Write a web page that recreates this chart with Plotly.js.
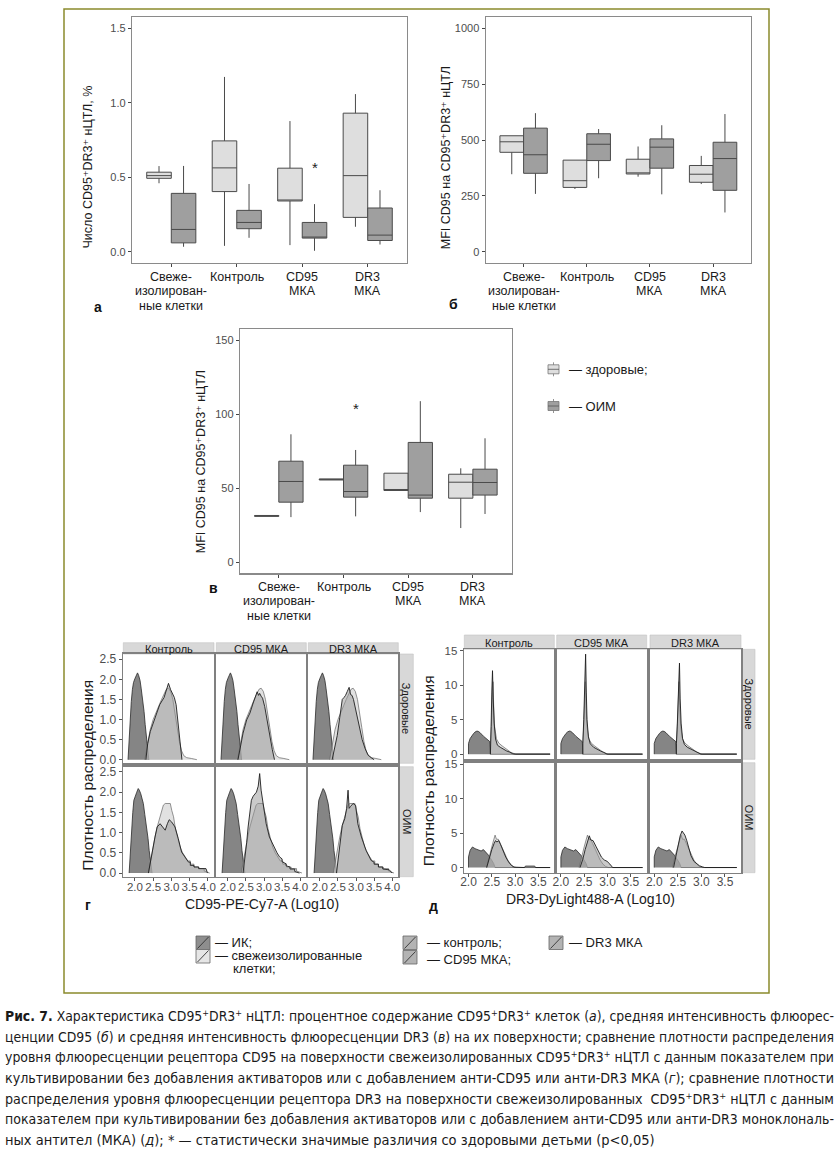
<!DOCTYPE html>
<html>
<head>
<meta charset="utf-8">
<script src="https://cdn.plot.ly/plotly-3.0.1.min.js"></script>
<style>
html,body{margin:0;padding:0;background:#fff;}
#wrap{position:relative;width:839px;height:1152px;overflow:hidden;}
#chart{position:absolute;left:0;top:0;width:839px;height:1152px;}
#caption{position:absolute;left:5px;top:1006px;width:829px;font-family:"Liberation Sans Narrow","Arial Narrow","DejaVu Sans Condensed","Liberation Sans",sans-serif;font-size:14.5px;line-height:20.7px;color:#1a1a1a;}
#caption .ln{display:block;height:20.7px;white-space:nowrap;}
#caption .ln span{display:inline-block;white-space:nowrap;transform-origin:0 0;}
#caption sup{font-size:0.65em;line-height:0;vertical-align:0.55em;}
</style>
</head>
<body>
<div id="wrap">
<div id="chart"></div>
<div id="caption">
<div class="ln j"><span><b>Рис. 7.</b> Характеристика CD95<sup>+</sup>DR3<sup>+</sup> нЦТЛ: процентное содержание CD95<sup>+</sup>DR3<sup>+</sup> клеток (<i>а</i>), средняя интенсивность флюорес-</span></div>
<div class="ln j"><span>ценции CD95 (<i>б</i>) и средняя интенсивность флюоресценции DR3 (<i>в</i>) на их поверхности; сравнение плотности распределения</span></div>
<div class="ln j"><span>уровня флюоресценции рецептора CD95 на поверхности свежеизолированных CD95<sup>+</sup>DR3<sup>+</sup> нЦТЛ с данным показателем при</span></div>
<div class="ln j"><span>культивировании без добавления активаторов или с добавлением анти-CD95 или анти-DR3 МКА (<i>г</i>); сравнение плотности</span></div>
<div class="ln j"><span>распределения уровня флюоресценции рецептора DR3 на поверхности свежеизолированных&nbsp; CD95<sup>+</sup>DR3<sup>+</sup> нЦТЛ с данным</span></div>
<div class="ln j"><span>показателем при культивировании без добавления активаторов или с добавлением анти-CD95 или анти-DR3 моноклональ-</span></div>
<div class="ln"><span>ных антител (МКА) (<i>д</i>); * — статистически значимые различия со здоровыми детьми (p&lt;0,05)</span></div>
</div>
</div>
<script>
// ---------------- DATA ----------------
const categories = ['Свеже-изолированные клетки', 'Контроль', 'CD95 МКА', 'DR3 МКА'];
const categoryLines = [['Свеже-', 'изолирован-', 'ные клетки'], ['Контроль'], ['CD95', 'МКА'], ['DR3', 'МКА']];
const groupNames = ['здоровые', 'ОИМ'];

// panel а: число CD95+DR3+ нЦТЛ, %
const aQ1H = [0.493, 0.404, 0.341, 0.231];
const aMedH = [0.511, 0.563, 0.345, 0.511];
const aQ3H = [0.534, 0.744, 0.561, 0.930];
const aLoH = [0.460, 0.040, 0.045, 0.168];
const aHiH = [0.575, 1.173, 0.877, 1.058];
const aQ1O = [0.060, 0.155, 0.092, 0.076];
const aMedO = [0.150, 0.197, 0.099, 0.112];
const aQ3O = [0.392, 0.278, 0.197, 0.294];
const aLoO = [0.034, 0.094, 0.007, 0.049];
const aHiO = [0.576, 0.455, 0.320, 0.413];
const aStarCat = [2], aStarY = [0.565];
const aTicks = [0, 0.5, 1, 1.5], aTickText = ['0.0', '0.5', '1.0', '1.5'];

// panel б: MFI CD95
const bQ1H = [445, 288, 348, 311];
const bMedH = [492, 318, 353, 347];
const bQ3H = [519, 410, 414, 386];
const bLoH = [347, 281, 336, 303];
const bHiH = [519, 410, 471, 429];
const bQ1O = [351, 408, 374, 275];
const bMedO = [434, 481, 468, 417];
const bQ3O = [553, 528, 505, 490];
const bLoO = [259, 329, 257, 176];
const bHiO = [620, 549, 566, 616];
const bTicks = [0, 250, 500, 750, 1000];

// panel в
const vQ1H = [31.0, 55.6, 48.5, 43.3];
const vMedH = [31.3, 56.0, 49.0, 54.1];
const vQ3H = [31.6, 56.3, 60.2, 59.5];
const vLoH = [31.0, 55.6, 48.5, 23.1];
const vHiH = [31.6, 56.3, 60.2, 63.5];
const vQ1O = [40.6, 44.0, 43.3, 45.4];
const vMedO = [54.6, 47.8, 45.4, 53.9];
const vQ3O = [68.3, 65.6, 81.0, 62.9];
const vLoO = [30.5, 31.0, 33.9, 32.6];
const vHiO = [86.5, 75.9, 108.9, 83.8];
const vStarCat = [1], vStarY = [103.7];
const vTicks = [0, 50, 100, 150];

// facets
const facetCols = ['Контроль', 'CD95 МКА', 'DR3 МКА'];
const facetRows = ['Здоровые', 'ОИМ'];

// panel г: CD95-PE-Cy7-A (Log10)
const gXTicks = [2, 2.5, 3, 3.5, 4], gXTickText = ['2.0', '2.5', '3.0', '3.5', '4.0'];
const gYTicks = [0, 0.5, 1, 1.5, 2, 2.5], gYTickText = ['0.0', '0.5', '1.0', '1.5', '2.0', '2.5'];
const gIKHx = [1.81, 1.84, 1.87, 1.90, 1.93, 1.96, 2.00, 2.04, 2.07, 2.10, 2.14, 2.17, 2.21, 2.25, 2.28, 2.31, 2.34, 2.38];
const gIKHy = [0, 0.55, 1.05, 1.45, 1.75, 1.92, 2.02, 2.10, 2.16, 2.10, 1.97, 1.78, 1.52, 1.20, 0.88, 0.55, 0.25, 0];
const gFreshHx = [2.27, 2.35, 2.42, 2.50, 2.58, 2.66, 2.73, 2.80, 2.86, 2.92, 2.98, 3.04, 3.10, 3.16, 3.22, 3.28, 3.34, 3.42, 3.55, 3.70];
const gFreshHy = [0, 0.40, 0.75, 1.00, 1.20, 1.35, 1.50, 1.65, 1.75, 1.78, 1.70, 1.50, 1.20, 0.80, 0.45, 0.22, 0.10, 0.05, 0.03, 0];
const gCtrlHx = [2.30, 2.35, 2.42, 2.50, 2.61, 2.68, 2.80, 2.87, 2.92, 2.98, 3.03, 3.08, 3.13, 3.18, 3.22, 3.25, 3.29];
const gCtrlHy = [0, 0.40, 0.70, 0.91, 1.24, 1.37, 1.55, 1.78, 1.90, 1.74, 1.66, 1.55, 1.37, 0.95, 0.50, 0.20, 0];
const gCD95Hx = [2.28, 2.35, 2.42, 2.52, 2.61, 2.70, 2.76, 2.81, 2.85, 2.88, 2.92, 2.96, 3.02, 3.08, 3.16, 3.23, 3.29];
const gCD95Hy = [0, 0.35, 0.66, 0.99, 1.16, 1.41, 1.55, 1.69, 1.60, 1.65, 1.58, 1.53, 1.32, 0.99, 0.58, 0.25, 0];
const gDR3Hx = [2.34, 2.41, 2.48, 2.55, 2.62, 2.67, 2.71, 2.76, 2.81, 2.85, 2.89, 2.93, 2.98, 3.04, 3.10, 3.17, 3.25, 3.33, 3.42, 3.50];
const gDR3Hy = [0, 0.30, 0.60, 1.05, 1.50, 1.55, 1.60, 1.70, 1.80, 1.62, 1.60, 1.50, 1.30, 1.00, 0.75, 0.50, 0.28, 0.12, 0.05, 0];
const gIKOx = [1.84, 1.87, 1.91, 1.94, 1.97, 2.01, 2.05, 2.09, 2.12, 2.16, 2.20, 2.23, 2.27, 2.32, 2.36, 2.39, 2.43, 2.47];
const gIKOy = [0, 0.50, 1.14, 1.50, 1.80, 1.92, 2.00, 2.09, 2.05, 1.96, 1.85, 1.72, 1.45, 1.14, 0.85, 0.56, 0.30, 0];
const gFreshOx = [2.37, 2.46, 2.55, 2.61, 2.66, 2.72, 2.78, 2.83, 2.90, 2.97, 3.01, 3.06, 3.11, 3.16, 3.24, 3.31, 3.38, 3.45, 3.52, 3.52, 3.62, 3.62, 3.75, 3.75, 3.90, 3.90, 4.05];
const gFreshOy = [0, 0.48, 0.89, 1.14, 1.30, 1.55, 1.68, 1.72, 1.72, 1.72, 1.55, 1.39, 1.10, 0.89, 0.64, 0.50, 0.40, 0.30, 0.30, 0.22, 0.22, 0.15, 0.15, 0.11, 0.11, 0.05, 0];
const gCtrlOx = [2.37, 2.46, 2.55, 2.61, 2.69, 2.76, 2.83, 2.89, 2.94, 3.01, 3.10, 3.19, 3.28, 3.37, 3.47, 3.52, 3.52, 3.62, 3.62, 3.75, 3.75, 3.95, 3.99];
const gCtrlOy = [0, 0.48, 0.89, 1.14, 1.22, 1.14, 1.06, 1.22, 1.32, 1.26, 1.14, 0.85, 0.52, 0.40, 0.27, 0.27, 0.19, 0.19, 0.15, 0.15, 0.11, 0.11, 0];
const gCD95Ox = [2.42, 2.47, 2.52, 2.56, 2.61, 2.65, 2.70, 2.74, 2.79, 2.84, 2.88, 2.92, 2.97, 3.02, 3.06, 3.15, 3.22, 3.29, 3.36, 3.43, 3.50, 3.50, 3.61, 3.61, 3.72, 3.72, 3.85, 3.85, 3.98];
const gCD95Oy = [0, 0.35, 0.75, 1.14, 1.50, 1.80, 1.90, 1.96, 2.00, 2.15, 2.46, 2.05, 1.72, 1.45, 1.22, 0.89, 0.75, 0.64, 0.50, 0.40, 0.35, 0.28, 0.23, 0.18, 0.15, 0.10, 0.10, 0.04, 0];
const gDR3Ox = [2.46, 2.51, 2.55, 2.62, 2.69, 2.74, 2.78, 2.81, 2.85, 2.92, 2.99, 3.05, 3.15, 3.28, 3.42, 3.50, 3.50, 3.62, 3.62, 3.74, 3.74, 3.92, 4.00];
const gDR3Oy = [0, 0.40, 0.73, 1.18, 1.35, 1.60, 2.05, 1.60, 1.65, 1.72, 1.67, 1.22, 0.89, 0.56, 0.31, 0.27, 0.22, 0.22, 0.15, 0.15, 0.10, 0.08, 0];

// panel д: DR3-DyLight488-A (Log10)
const dXTicks = [2, 2.5, 3, 3.5], dXTickText = ['2.0', '2.5', '3.0', '3.5'];
const dYTicks = [0, 5, 10, 15];
const dIKHx = [2.0, 2.0, 2.035, 2.07, 2.11, 2.14, 2.18, 2.21, 2.25, 2.32, 2.39, 2.46, 2.47, 3.75];
const dIKHy = [0, 1.55, 2.27, 2.70, 3.00, 3.20, 3.34, 3.30, 3.10, 2.60, 2.13, 1.80, 0, 0];
const dFreshHx = [2.47, 2.47, 2.49, 2.51, 2.525, 2.54, 2.56, 2.60, 2.65, 2.72, 2.78, 2.85, 2.90, 2.97, 3.02, 3.75];
const dFreshHy = [0, 1.5, 4.0, 8.0, 10.5, 7.0, 4.0, 2.2, 1.6, 1.2, 0.9, 0.55, 0.3, 0.1, 0, 0];
const dCtrlHx = [2.47, 2.47, 2.485, 2.50, 2.515, 2.53, 2.55, 2.58, 2.62, 2.68, 2.75, 2.82, 2.88, 2.95, 3.0, 3.75];
const dCtrlHy = [0, 1.5, 4.0, 9.0, 12.1, 8.0, 4.5, 2.2, 1.3, 1.0, 0.7, 0.45, 0.3, 0.05, 0, 0];
const dCD95Hx = [2.47, 2.47, 2.49, 2.51, 2.53, 2.545, 2.56, 2.59, 2.63, 2.70, 2.77, 2.85, 2.92, 2.99, 3.75];
const dCD95Hy = [0, 1.5, 5.0, 10.0, 14.5, 9.0, 5.0, 2.5, 1.5, 1.0, 0.7, 0.45, 0.25, 0, 0];
const dDR3Hx = [2.47, 2.47, 2.49, 2.51, 2.535, 2.55, 2.57, 2.60, 2.64, 2.70, 2.78, 2.86, 2.93, 2.99, 3.75];
const dDR3Hy = [0, 1.5, 4.5, 9.0, 13.2, 8.0, 4.5, 2.3, 1.4, 1.0, 0.75, 0.45, 0.2, 0, 0];
const dIKOx = [2.0, 2.0, 2.035, 2.085, 2.14, 2.21, 2.27, 2.32, 2.37, 2.43, 2.49, 2.54, 2.57, 3.75];
const dIKOy = [0, 1.54, 2.50, 2.98, 2.74, 2.50, 2.40, 2.60, 2.26, 1.78, 1.15, 0.58, 0, 0];
const dFreshOx = [2.39, 2.44, 2.50, 2.54, 2.57, 2.60, 2.64, 2.68, 2.73, 2.78, 2.84, 2.90, 2.96, 3.02, 3.75];
const dFreshOy = [0, 1.6, 3.0, 4.0, 4.7, 4.1, 4.1, 3.5, 2.7, 1.9, 1.1, 0.5, 0.15, 0, 0];
const dCtrlOx = [2.39, 2.44, 2.50, 2.55, 2.58, 2.61, 2.65, 2.69, 2.74, 2.80, 2.86, 2.92, 2.98, 3.05, 3.20, 3.22, 3.42, 3.44, 3.75];
const dCtrlOy = [0, 1.3, 2.6, 3.5, 3.9, 3.7, 3.9, 3.3, 2.4, 1.5, 0.8, 0.3, 0.05, 0, 0, 0.2, 0.2, 0, 0];
const dCD95Ox = [2.41, 2.47, 2.52, 2.57, 2.61, 2.64, 2.69, 2.75, 2.81, 2.87, 2.93, 2.99, 3.05, 3.11, 3.75];
const dCD95Oy = [0, 1.2, 2.6, 3.8, 4.6, 4.0, 3.9, 3.1, 2.2, 1.5, 1.1, 0.9, 0.5, 0, 0];
const dDR3Ox = [2.41, 2.46, 2.51, 2.55, 2.59, 2.62, 2.65, 2.69, 2.73, 2.78, 2.84, 2.90, 2.96, 3.03, 3.07, 3.75];
const dDR3Oy = [0, 1.5, 3.3, 4.6, 5.3, 5.0, 4.7, 3.9, 2.8, 1.7, 0.9, 0.5, 0.25, 0.08, 0, 0];

// ---------------- LAYOUT HELPERS ----------------
const W = 839, H = 1152;
const X = p => p / W;
const Y = p => 1 - p / H;
const FONT = 'Liberation Sans, Arial, Helvetica, sans-serif';
const traces = [];
const shapes = [];
const annotations = [];
const layout = {
  width: W, height: H, margin: {l: 0, r: 0, t: 0, b: 0},
  paper_bgcolor: '#ffffff', plot_bgcolor: '#ffffff', showlegend: false,
  boxmode: 'overlay',
  font: {family: FONT, color: '#1a1a1a'},
  shapes: shapes, annotations: annotations
};
const axId = n => (n === 1 ? '' : String(n));

function text(txt, x, y, opt) {
  annotations.push(Object.assign({
    text: txt, x: X(x), y: Y(y), xref: 'paper', yref: 'paper',
    showarrow: false, xanchor: 'center', yanchor: 'middle',
    font: {family: FONT, size: 12, color: '#1a1a1a'}
  }, opt || {}));
}
function rect(x0, y0, x1, y1, fill, line, lw) {
  shapes.push({type: 'rect', xref: 'paper', yref: 'paper', x0: X(x0), x1: X(x1), y0: Y(y1), y1: Y(y0),
    fillcolor: fill, line: {color: line, width: lw === undefined ? 1 : lw}, layer: 'below'});
}
function seg(x0, y0, x1, y1, color, lw) {
  shapes.push({type: 'line', xref: 'paper', yref: 'paper', x0: X(x0), x1: X(x1), y0: Y(y0), y1: Y(y1),
    line: {color: color, width: lw || 1}});
}

// ---------------- BOX PANELS ----------------
const LIGHT = '#dedede', DARK = '#9f9f9f', BOXLINE = '#4a4a4a';
const BOX_W = 0.375;           // each box = half of the 0.75 dodge width (ggplot default)
const DODGE = BOX_W / 2;
const catPos = categories.map((_, i) => i);
function boxPanel(n, px, py, yrange, ytv, ytt, hs, os) {
  const xr = 'x' + axId(n), yr = 'y' + axId(n);
  layout['xaxis' + axId(n)] = {
    domain: [X(px[0]), X(px[1])], anchor: yr, type: 'linear', range: [-0.6, 3.6],
    tickvals: catPos, showticklabels: false,
    showline: true, mirror: true, linecolor: '#8a8a8a', linewidth: 1.2,
    ticks: 'outside', ticklen: 3, tickcolor: '#444', tickwidth: 1,
    showgrid: false, zeroline: false, fixedrange: true
  };
  layout['yaxis' + axId(n)] = {
    domain: [Y(py[1]), Y(py[0])], anchor: xr, range: yrange,
    tickvals: ytv, ticktext: ytt,
    showline: true, mirror: true, linecolor: '#8a8a8a', linewidth: 1.2,
    ticks: 'outside', ticklen: 3, tickcolor: '#444', tickwidth: 1,
    tickfont: {family: FONT, size: 11, color: '#4d4d4d'},
    showgrid: false, zeroline: false, fixedrange: true
  };
  const base = {type: 'box', xaxis: xr, yaxis: yr, width: BOX_W,
    whiskerwidth: 0, boxpoints: false, hoverinfo: 'skip', line: {color: BOXLINE, width: 1}};
  traces.push(Object.assign({}, base, {name: groupNames[0], x: catPos.map(p => p - DODGE),
    q1: hs[0], median: hs[1], q3: hs[2], lowerfence: hs[3], upperfence: hs[4], fillcolor: LIGHT}));
  traces.push(Object.assign({}, base, {name: groupNames[1], x: catPos.map(p => p + DODGE),
    q1: os[0], median: os[1], q3: os[2], lowerfence: os[3], upperfence: os[4], fillcolor: DARK}));
  // category tick labels, one line each, placed at the category positions of this axis
  categoryLines.forEach((lines, i) => lines.forEach((ln, k) => annotations.push({
    text: ln, x: catPos[i], xref: xr, y: Y(py[1] + 13.5 + k * 14.5), yref: 'paper',
    showarrow: false, xanchor: 'center', yanchor: 'middle',
    font: {family: FONT, size: 12.5, color: '#1a1a1a'}
  })));
}

boxPanel(1, [132, 407], [17, 263], [-0.075, 1.575], aTicks, aTickText,
  [aQ1H, aMedH, aQ3H, aLoH, aHiH], [aQ1O, aMedO, aQ3O, aLoO, aHiO]);
boxPanel(2, [485.7, 751], [17, 263], [-50, 1050], bTicks, bTicks.map(String),
  [bQ1H, bMedH, bQ3H, bLoH, bHiH], [bQ1O, bMedO, bQ3O, bLoO, bHiO]);
boxPanel(3, [240, 511.7], [329.3, 573.3], [-7.5, 157.5], vTicks, vTicks.map(String),
  [vQ1H, vMedH, vQ3H, vLoH, vHiH], [vQ1O, vMedO, vQ3O, vLoO, vHiO]);

// significance asterisks (above the ОИМ box of the group)
aStarCat.forEach((c, i) => annotations.push({text: '*', x: c + DODGE, y: aStarY[i], xref: 'x', yref: 'y',
  showarrow: false, font: {family: FONT, size: 15, color: '#222'}}));
vStarCat.forEach((c, i) => annotations.push({text: '*', x: c + DODGE, y: vStarY[i], xref: 'x3', yref: 'y3',
  showarrow: false, font: {family: FONT, size: 15, color: '#222'}}));

// axis titles of box panels
const titleFont = {family: 'Liberation Sans, DejaVu Sans, sans-serif', size: 12.5, color: '#1a1a1a'};
text('Число CD95⁺DR3⁺ нЦТЛ, %', 87, 167.5, {textangle: -90, font: titleFont});
text('MFI CD95 на CD95⁺DR3⁺ нЦТЛ', 445.7, 157.5, {textangle: -90, font: titleFont});
text('MFI CD95 на CD95⁺DR3⁺ нЦТЛ', 201.7, 461.5, {textangle: -90, font: titleFont});

// panel letters
const letterFont = {family: FONT, size: 14, color: '#111', weight: 'bold'};
text('а', 98, 307, {font: letterFont});
text('б', 453, 304, {font: letterFont});
text('в', 213, 588, {font: letterFont});
text('г', 88, 905, {font: letterFont});
text('д', 433, 906, {font: letterFont});

// legend of box plots (panel в)
function boxIcon(cx, cy, fill) {
  rect(cx - 5.5, cy - 4.5, cx + 5.5, cy + 4.5, fill, '#777', 0.8);
  seg(cx - 5.5, cy, cx + 5.5, cy, '#555', 0.8);
  seg(cx, cy - 7, cx, cy - 4.5, '#777', 0.8);
  seg(cx, cy + 4.5, cx, cy + 7, '#777', 0.8);
}
boxIcon(553.5, 369.3, LIGHT);
boxIcon(553.5, 406, DARK);
text('— здоровые;', 566.7, 369.3, {xanchor: 'left', font: {family: FONT, size: 13, color: '#1a1a1a'}});
text('— ОИМ', 566.7, 406, {xanchor: 'left', font: {family: FONT, size: 13, color: '#1a1a1a'}});

// ---------------- FACET PANELS ----------------
const IK_STYLE = {fillcolor: 'rgba(112,112,112,0.85)', line: {color: '#2a2a2a', width: 0.8}};
const FRESH_STYLE = {fillcolor: 'rgba(205,205,205,0.6)', line: {color: '#666666', width: 0.7}};
const COND_STYLE = {fillcolor: 'rgba(150,150,150,0.5)', line: {color: '#1e1e1e', width: 0.9}};

function facetBlock(startN, cols, rows, topStrip, rightStrip, xrange, yrange, xtv, xtt, ytv, ytt, curves, xFont, yFont, xStand) {
  for (let r = 0; r < 2; r++) {
    for (let c = 0; c < 3; c++) {
      const n = startN + r * 3 + c;
      const xa = 'x' + n, ya = 'y' + n;
      const xax = {
        domain: [X(cols[c][0]), X(cols[c][1])], anchor: ya, range: xrange,
        tickvals: xtv, ticktext: xtt, tickangle: 0,
        showticklabels: r === 1, ticks: r === 1 ? 'outside' : '', ticklen: 3, tickcolor: '#555',
        tickfont: {family: FONT, size: xFont, color: '#4d4d4d'},
        showline: true, mirror: true, linecolor: '#808080', linewidth: 1.6,
        showgrid: false, zeroline: false, fixedrange: true
      };
      if (r === 1) xax.ticklabelstandoff = xStand;
      layout['xaxis' + n] = xax;
      layout['yaxis' + n] = {
        domain: [Y(rows[r][1]), Y(rows[r][0])], anchor: xa, range: yrange,
        tickvals: ytv, ticktext: ytt,
        showticklabels: c === 0, ticks: c === 0 ? 'outside' : '', ticklen: 3, tickcolor: '#555',
        tickfont: {family: FONT, size: yFont, color: '#4d4d4d'},
        showline: true, mirror: true, linecolor: '#808080', linewidth: 1.6,
        showgrid: false, zeroline: false, fixedrange: true
      };
      const cv = curves[r];
      const add = (xy, st, nm) => traces.push(Object.assign({type: 'scatter', mode: 'lines', name: nm,
        x: xy[0], y: xy[1], xaxis: xa, yaxis: ya, fill: 'tozeroy', hoverinfo: 'skip'}, st));
      add(cv.ik, IK_STYLE, 'ИК');
      add(cv.fresh, FRESH_STYLE, 'свежеизолированные клетки');
      add(cv.cond[c], COND_STYLE, facetCols[c]);
    }
  }
  // strips
  for (let c = 0; c < 3; c++) {
    rect(cols[c][0], topStrip[0], cols[c][1], topStrip[1], '#d8d8d8', '#c4c4c4', 0.6);
    text(facetCols[c], (cols[c][0] + cols[c][1]) / 2, (topStrip[0] + topStrip[1]) / 2 + 0.5,
      {font: {family: FONT, size: 11, color: '#1a1a1a'}});
  }
  for (let r = 0; r < 2; r++) {
    rect(rightStrip[0], rows[r][0], rightStrip[1], rows[r][1], '#d8d8d8', '#c4c4c4', 0.6);
    text(facetRows[r], (rightStrip[0] + rightStrip[1]) / 2 + 0.5, (rows[r][0] + rows[r][1]) / 2,
      {textangle: 90, font: {family: FONT, size: 11, color: '#1a1a1a'}});
  }
}

facetBlock(4,
  [[123.3, 214], [216.3, 306.3], [308.3, 398.3]],
  [[654, 763.3], [766.7, 876.7]],
  [642.7, 654], [399.3, 413.3],
  [1.68, 4.17], [-0.09, 2.63], gXTicks, gXTickText, gYTicks, gYTickText,
  [
    {ik: [gIKHx, gIKHy], fresh: [gFreshHx, gFreshHy], cond: [[gCtrlHx, gCtrlHy], [gCD95Hx, gCD95Hy], [gDR3Hx, gDR3Hy]]},
    {ik: [gIKOx, gIKOy], fresh: [gFreshOx, gFreshOy], cond: [[gCtrlOx, gCtrlOy], [gCD95Ox, gCD95Oy], [gDR3Ox, gDR3Oy]]}
  ], 11.5, 12, -4);

facetBlock(10,
  [[464.3, 554.3], [556.7, 646.7], [650, 741]],
  [[649.3, 759.3], [762.7, 872.7]],
  [635, 649.3], [741.7, 755],
  [1.91, 3.84], [-0.75, 15.2], dXTicks, dXTickText, dYTicks, dYTicks.map(String),
  [
    {ik: [dIKHx, dIKHy], fresh: [dFreshHx, dFreshHy], cond: [[dCtrlHx, dCtrlHy], [dCD95Hx, dCD95Hy], [dDR3Hx, dDR3Hy]]},
    {ik: [dIKOx, dIKOy], fresh: [dFreshOx, dFreshOy], cond: [[dCtrlOx, dCtrlOy], [dCD95Ox, dCD95Oy], [dDR3Ox, dDR3Oy]]}
  ], 12, 11.5, -6);

// facet titles
text('Плотность распределения', 86.7, 775, {textangle: -90, font: {family: FONT, size: 15.5, color: '#1a1a1a'}});
text('Плотность распределения', 428.8, 770.5, {textangle: -90, font: {family: FONT, size: 15.5, color: '#1a1a1a'}});
text('CD95-PE-Cy7-A (Log10)', 262, 904, {font: {family: FONT, size: 14, color: '#1a1a1a'}});
text('DR3-DyLight488-A (Log10)', 590, 899, {font: {family: FONT, size: 14, color: '#1a1a1a'}});

// bottom legend of density plots
function legIcon(x0, y0, fill) {
  rect(x0, y0, x0 + 14, y0 + 13.5, fill, '#666', 0.8);
  seg(x0 + 1.5, y0 + 12.5, x0 + 12.5, y0 + 1, '#333', 0.9);
}
legIcon(196, 936, '#8e8e8e');
legIcon(196, 949.5, '#e6e6e6');
legIcon(403, 936, '#b3b3b3');
legIcon(403, 950.5, '#b3b3b3');
legIcon(549, 936, '#b3b3b3');
const legFont = {family: FONT, size: 13, color: '#1a1a1a'};
text('— ИК;', 212.7, 942.7, {xanchor: 'left', font: legFont});
text('— свежеизолированные', 212.7, 955, {xanchor: 'left', font: legFont});
text('клетки;', 230.7, 968, {xanchor: 'left', font: legFont});
text('— контроль;', 425, 942.7, {xanchor: 'left', font: legFont});
text('— CD95 МКА;', 425, 959.5, {xanchor: 'left', font: legFont});
text('— DR3 МКА', 566.7, 942.7, {xanchor: 'left', font: legFont});

// outer frame
shapes.push({type: 'rect', xref: 'paper', yref: 'paper', x0: X(64), x1: X(769), y0: Y(993), y1: Y(9),
  line: {color: '#8b8a2c', width: 1.5}, fillcolor: 'rgba(0,0,0,0)', layer: 'above'});

Plotly.newPlot('chart', traces, layout, {staticPlot: true, displayModeBar: false});

// ---------------- caption justification ----------------
(function () {
  const T = 829;
  document.querySelectorAll('#caption .ln').forEach(el => {
    const sp = el.firstElementChild;
    const w = sp.getBoundingClientRect().width;
    if (w > T) {
      sp.style.transform = 'scaleX(' + (T / w) + ')';
    } else if (el.classList.contains('j')) {
      const n = (sp.textContent.match(/ /g) || []).length;
      if (n > 0) sp.style.wordSpacing = ((T - w) / n) + 'px';
    }
  });
})();
</script>
</body>
</html>
